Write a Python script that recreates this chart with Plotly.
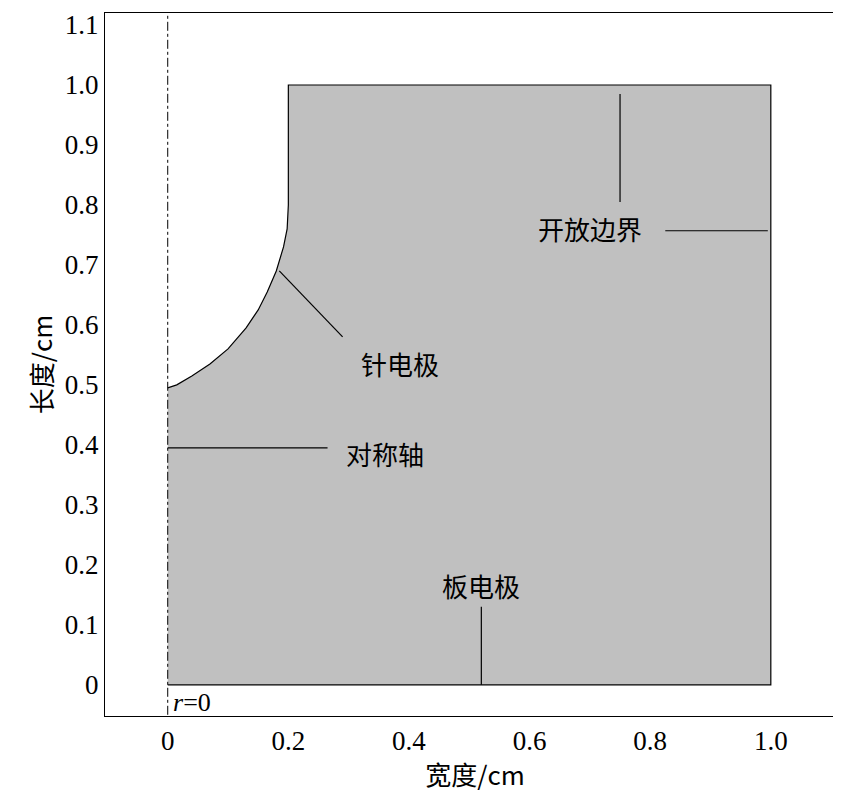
import plotly.graph_objects as go

# outline of the computation domain (width cm, length cm)
outline_x = [0, 1.0, 1.0, 0.2, 0.2]
outline_y = [0, 0, 1.0, 1.0, 0.8]
# needle electrode tip, from the top of the tip down to the axis
tip_x = [0.2, 0.198, 0.192, 0.18, 0.165, 0.15, 0.13, 0.1, 0.07, 0.04, 0.015, 0]
tip_y = [0.8, 0.76, 0.73, 0.69, 0.655, 0.625, 0.595, 0.56, 0.535, 0.515, 0.5, 0.495]

x_ticks = [0, 0.2, 0.4, 0.6, 0.8, 1.0]
x_labels = ["0", "0.2", "0.4", "0.6", "0.8", "1.0"]
y_ticks = [0, 0.1, 0.2, 0.3, 0.4, 0.5, 0.6, 0.7, 0.8, 0.9, 1.0, 1.1]
y_labels = ["0"] + [f"{v:.1f}" for v in y_ticks[1:]]

# labels: text, x, y ; leader lines: x0, y0, x1, y1
labels = [("针电极", 0.385, 0.535), ("对称轴", 0.36, 0.385),
          ("板电极", 0.52, 0.165), ("开放边界", 0.7, 0.76)]
leaders = [(0.185, 0.69, 0.29, 0.58), (0, 0.395, 0.265, 0.395),
           (0.52, 0.13, 0.52, 0.0), (0.75, 0.985, 0.75, 0.805),
           (0.825, 0.757, 0.995, 0.757)]

cjk = dict(family="Noto Sans CJK SC", size=26, color="black")

fig = go.Figure()
fig.add_trace(go.Scatter(x=outline_x + tip_x, y=outline_y + tip_y, fill="toself",
                         fillcolor="#c0c0c0", mode="lines",
                         line=dict(color="black", width=1.2), hoverinfo="skip"))
fig.add_trace(go.Scatter(x=[0, 0], y=[-0.05, 1.12], mode="lines",
                         line=dict(color="black", width=1, dash="dashdot")))

for x0, y0, x1, y1 in leaders:
    fig.add_shape(type="line", x0=x0, y0=y0, x1=x1, y1=y1,
                  line=dict(color="black", width=1.2))
for txt, x, y in labels:
    fig.add_annotation(x=x, y=y, text=txt, showarrow=False, font=cjk)
fig.add_annotation(x=0.005, y=-0.03, text="<i>r</i>=0", showarrow=False, xanchor="left",
                   font=dict(family="Liberation Serif", size=26, color="black"))

axis = dict(showline=True, mirror=True, linecolor="black", linewidth=1.2,
            showgrid=False, zeroline=False, ticks="inside", ticklen=0,
            automargin=False,
            tickfont=dict(family="Liberation Serif", size=27, color="black"))
fig.update_layout(
    width=841, height=794, showlegend=False,
    plot_bgcolor="white", paper_bgcolor="white",
    margin=dict(l=97, r=4, t=5, b=86),
    xaxis=dict(axis, range=[-0.104, 1.123], tickvals=x_ticks, ticktext=x_labels,
               title=dict(text="宽度/cm", standoff=4, font=cjk)),
    yaxis=dict(axis, range=[-0.052, 1.12], tickvals=y_ticks, ticktext=y_labels,
               title=dict(text="长度/cm", standoff=4, font=cjk)),
)
fig.write_html("out.html")
